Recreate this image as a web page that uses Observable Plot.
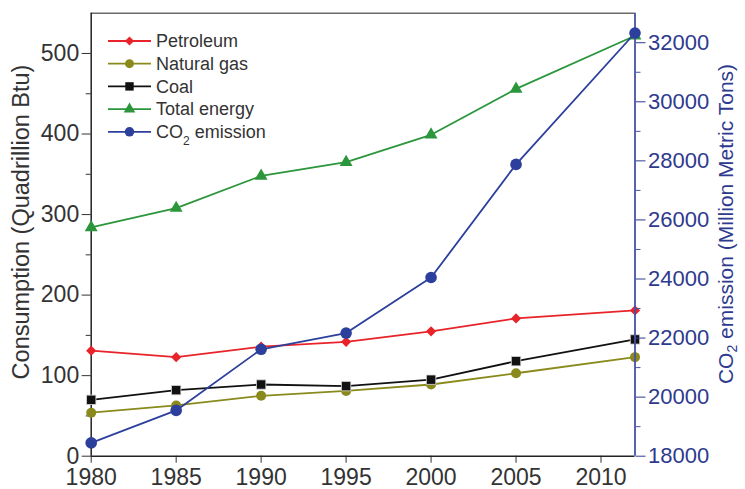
<!DOCTYPE html>
<html><head><meta charset="utf-8">
<script src="https://cdn.jsdelivr.net/npm/d3@7"></script>
<script src="https://cdn.jsdelivr.net/npm/@observablehq/plot@0.6"></script>
<style>
body{margin:0;background:#fff;}
#chart{position:relative;width:745px;height:489px;font-family:"Liberation Sans",Arial,sans-serif;}
#chart svg{position:absolute;left:0;top:0;}
</style></head><body><div id="chart"></div>
<script>
// ---- data ----
const years = [1980, 1985, 1990, 1995, 2000, 2005, 2012];
const petroleum = [131, 123, 136, 142, 155, 171, 181];
const naturalGas = [54, 63, 75, 81, 89, 103, 123];
const coal = [70, 82, 89, 87, 95, 118, 145];
const totalEnergy = [284, 308, 348, 365, 399, 456, 522];
const co2Emission = [18450, 19550, 21620, 22170, 24050, 27880, 32330];
const xTicks = [1980, 1985, 1990, 1995, 2000, 2005, 2010];
const leftTicks = [0, 100, 200, 300, 400, 500];
const leftMinor = [50, 150, 250, 350, 450];
const rightTicks = [18000, 20000, 22000, 24000, 26000, 28000, 30000, 32000];
const rightMinor = [19000, 21000, 23000, 25000, 27000, 29000, 31000];
const seriesNames = ["Petroleum", "Natural gas", "Coal", "Total energy", "CO2 emission"];

const colors = {red:"#e8232a", olive:"#8a8a1c", black:"#111111", green:"#2b963c", blue:"#2c3f9c"};
const blueAxis = "#4653a8", blueText = "#2e3a8e";

const rows = (vals) => years.map((y,i)=>({year:y, value:vals[i]}));
const W=745, H=489;
const common = {width:W, height:H, marginLeft:90.7, marginRight:110.5, marginTop:12.7, marginBottom:33.3,
  style:{fontFamily:"'Liberation Sans', Arial, sans-serif", background:"transparent", overflow:"visible"}};
const xDomain = [1980, 2012];

const defs = [
  {data: petroleum, color: colors.red, symbol:"diamond2", r:4.6},
  {data: naturalGas, color: colors.olive, symbol:"circle", r:5.0},
  {data: coal, color: colors.black, symbol:"square", r:5.3, stroke:"#ddd"},
  {data: totalEnergy, color: colors.green, symbol:"triangle", r:4.8}
];

const p1 = Plot.plot({
  ...common,
  x: {domain: xDomain},
  y: {domain: [0, 550]},
  marks: [
    Plot.ruleY([550], {stroke:"#6a6a6a", strokeWidth:1.5}),
    Plot.axisX({ticks: xTicks, tickSize: 7, tickPadding: 5, tickFormat: d => String(d), fontSize: 23, color:"#333", label: null}),
    Plot.axisY({ticks: leftTicks, tickSize: 9, tickPadding: 3, fontSize: 23, color:"#333", label: null}),
    Plot.axisY({ticks: leftMinor, tickSize: 5, tickFormat: () => "", color:"#333", label: null}),
    Plot.ruleX([1980], {stroke:"#222", strokeWidth:1.5}),
    Plot.ruleY([0], {stroke:"#222", strokeWidth:1.5}),
    ...defs.flatMap(d => [
      Plot.line(rows(d.data), {x:"year", y:"value", stroke:d.color, strokeWidth:1.8}),
      Plot.dot(rows(d.data), {x:"year", y:"value", fill:d.color, symbol:d.symbol, r:d.r, stroke: d.stroke || "none", strokeWidth:0.8})
    ])
  ]
});

const p2 = Plot.plot({
  ...common,
  x: {domain: xDomain, axis: null},
  y: {domain: [18000, 33000]},
  marks: [
    Plot.axisY({anchor:"right", ticks: rightTicks, tickSize: 10, tickPadding: 3, tickFormat: d => String(d), fontSize: 22, color: blueText, label: null}),
    Plot.axisY({anchor:"right", ticks: rightMinor, tickSize: 5, tickFormat: () => "", color: blueAxis, label: null}),
    Plot.ruleX([2012], {stroke: blueAxis, strokeWidth:1.8}),
    Plot.line(rows(co2Emission), {x:"year", y:"value", stroke: colors.blue, strokeWidth:1.8}),
    Plot.dot(rows(co2Emission), {x:"year", y:"value", fill: colors.blue, r:5.8})
  ]
});

const chart = document.getElementById("chart");
chart.appendChild(p1);
chart.appendChild(p2);

// axis titles
const s2 = d3.select(p2);
s2.append("text").attr("transform","translate(21,222) rotate(-90)")
  .attr("text-anchor","middle").attr("dy","0.35em").attr("font-size",23.5).attr("fill","#333")
  .text("Consumption (Quadrillion Btu)");
const rt = s2.append("text").attr("transform","translate(726,224) rotate(-90)")
  .attr("text-anchor","middle").attr("dy","0.35em").attr("font-size",21).attr("fill",blueText);
rt.append("tspan").text("CO");
rt.append("tspan").attr("baseline-shift","-4").attr("font-size",14).text("2");
rt.append("tspan").attr("baseline-shift","0").text(" emission (Million Metric Tons)");

// legend
const legDefs = [...defs, {color: colors.blue, symbol:"circle", r:5.3}];
const symMap = {diamond2:d3.symbolDiamond2, circle:d3.symbolCircle, square:d3.symbolSquare, triangle:d3.symbolTriangle};
const leg = s2.append("g").attr("font-size",18).attr("fill","#333").attr("text-anchor","start");
legDefs.forEach((d,i) => {
  const y = 41 + i*22.7;
  leg.append("line").attr("x1",108).attr("x2",151).attr("y1",y).attr("y2",y).attr("stroke",d.color).attr("stroke-width",1.8);
  leg.append("path").attr("d", d3.symbol(symMap[d.symbol], Math.PI*d.r*d.r*0.8)()).attr("transform",`translate(129.5,${y})`).attr("fill",d.color);
  const t = leg.append("text").attr("x",156).attr("y",y).attr("dy","0.35em");
  if (i === 4) {
    t.append("tspan").text("CO");
    t.append("tspan").attr("baseline-shift","sub").attr("font-size",12).text("2");
    t.append("tspan").text(" emission");
  } else t.text(seriesNames[i]);
});
</script></body></html>
